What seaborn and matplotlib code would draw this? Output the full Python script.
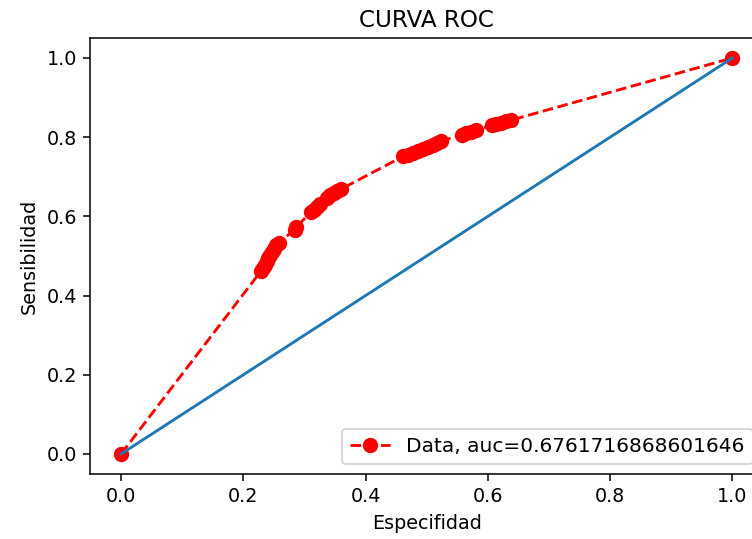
import matplotlib
matplotlib.use("Agg")
import matplotlib.pyplot as plt
import seaborn as sns

# ROC operating points (false-positive rate vs true-positive rate)
fpr = [0.0,
       0.229, 0.232, 0.235, 0.238, 0.241, 0.244, 0.247, 0.250, 0.254, 0.258,
       0.284, 0.287,
       0.311, 0.316, 0.321, 0.326, 0.337, 0.342, 0.348, 0.354, 0.360,
       0.462, 0.470, 0.478, 0.486, 0.494, 0.502, 0.510, 0.517, 0.523,
       0.557, 0.564, 0.572, 0.580,
       0.606, 0.614, 0.622, 0.630, 0.638,
       1.0]
tpr = [0.0,
       0.462, 0.470, 0.478, 0.487, 0.494, 0.502, 0.510, 0.518, 0.527, 0.534,
       0.566, 0.574,
       0.611, 0.617, 0.624, 0.630, 0.647, 0.653, 0.659, 0.664, 0.669,
       0.752, 0.756, 0.760, 0.764, 0.769, 0.775, 0.781, 0.786, 0.790,
       0.806, 0.810, 0.813, 0.817,
       0.830, 0.834, 0.837, 0.840, 0.843,
       1.0]
auc = 0.6761716868601646

chance_x = [0, 1]
chance_y = [0, 1]

dpi = 138
fig = plt.figure(figsize=(752 / dpi, 539 / dpi), dpi=dpi)
ax = fig.add_axes([0.1203, 0.121, 0.8943, 0.8082])

sns.lineplot(x=fpr, y=tpr, ax=ax, sort=False, estimator=None,
             color="red", linestyle="--", marker="o", markersize=7,
             markeredgecolor="red", markeredgewidth=1.0,
             label="Data, auc=" + str(auc))
sns.lineplot(x=chance_x, y=chance_y, ax=ax, sort=False, estimator=None,
             color="C0")

ax.set_title("CURVA ROC")
ax.set_xlabel("Especifidad")
ax.set_ylabel("Sensibilidad")
ax.legend(loc=4, fontsize=10.5)

fig.savefig("out.png", dpi=dpi)
